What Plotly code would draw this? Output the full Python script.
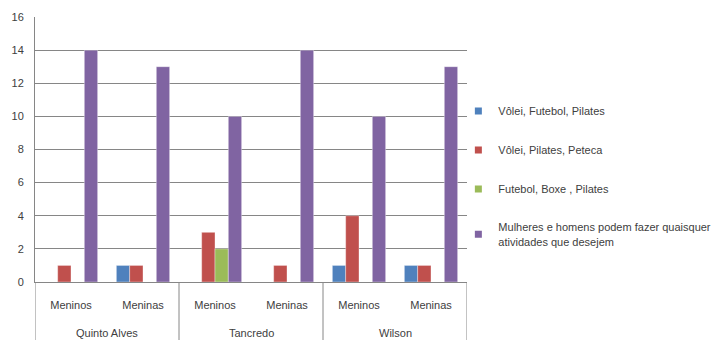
import plotly.graph_objects as go

# Schools and groups on the x axis
schools = ["Quinto Alves", "Tancredo", "Wilson"]
groups = ["Meninos", "Meninas", "Meninos", "Meninas", "Meninos", "Meninas"]
category_keys = ["Quinto Alves|Meninos", "Quinto Alves|Meninas",
                 "Tancredo|Meninos", "Tancredo|Meninas",
                 "Wilson|Meninos", "Wilson|Meninas"]

# Answers per option
series_names = [
    "Vôlei, Futebol, Pilates",
    "Vôlei, Pilates, Peteca",
    "Futebol, Boxe , Pilates",
    "Mulheres e homens podem fazer quaisquer<br>atividades que desejem",
]
volei_futebol_pilates = [0, 1, 0, 0, 1, 1]
volei_pilates_peteca = [1, 1, 3, 1, 4, 1]
futebol_boxe_pilates = [0, 0, 2, 0, 0, 0]
quaisquer_atividades = [14, 13, 10, 14, 10, 13]

series_values = [volei_futebol_pilates, volei_pilates_peteca,
                 futebol_boxe_pilates, quaisquer_atividades]
colors = ["#4F81BD", "#C0504D", "#9BBB59", "#8064A2"]

text_color = "#404040"
line_color = "#868686"
font_family = "Liberation Sans, Arial, sans-serif"

fig = go.Figure()
for i, (name, vals, col) in enumerate(zip(series_names, series_values, colors)):
    fig.add_trace(go.Bar(
        x=category_keys,
        y=vals,
        name=name,
        showlegend=False,
        marker=dict(color=col, line=dict(color="rgba(255,255,255,0.6)", width=0.6)),
    ))
    # small square legend key for the series
    fig.add_trace(go.Scatter(
        x=[None], y=[None],
        mode="markers",
        name=name,
        legendgroup=str(i),
        marker=dict(symbol="square", size=7, color=col),
        hoverinfo="skip",
    ))

# school names under each pair of groups
n_per_school = 2
for k, school in enumerate(schools):
    fig.add_annotation(
        x=k * n_per_school + (n_per_school - 1) / 2, y=-0.192,
        xref="x", yref="paper",
        text=school, showarrow=False,
        font=dict(size=11, color=text_color),
        xanchor="center", yanchor="middle",
    )

# dividers between the schools in the label area
for k in range(len(schools) + 1):
    fig.add_shape(
        type="line",
        x0=k * n_per_school - 0.5, x1=k * n_per_school - 0.5,
        y0=0, y1=-0.22,
        xref="x", yref="paper",
        line=dict(color=line_color, width=1),
    )

fig.update_layout(
    width=725,
    height=340,
    margin=dict(l=35, r=258, t=17, b=58, autoexpand=False),
    paper_bgcolor="white",
    plot_bgcolor="white",
    barmode="group",
    bargap=0.26,
    bargroupgap=0,
    font=dict(family=font_family, size=11, color=text_color),
    showlegend=True,
    legend=dict(
        x=0.98, y=0.70, xanchor="left", yanchor="top",
        font=dict(size=11, color=text_color),
        tracegroupgap=20,
        itemwidth=30,
        bgcolor="rgba(0,0,0,0)",
    ),
    xaxis=dict(
        type="category",
        range=[-0.5, 5.5],
        tickvals=category_keys,
        ticktext=groups,
        showline=True,
        linecolor=line_color,
        linewidth=1,
        showgrid=False,
        ticks="",
        ticklabelstandoff=13,
        tickfont=dict(size=11, color=text_color),
    ),
    yaxis=dict(
        range=[0, 16],
        dtick=2,
        showgrid=True,
        gridcolor=line_color,
        gridwidth=1,
        showline=True,
        linecolor=line_color,
        linewidth=1,
        zeroline=False,
        ticks="",
        ticklabelstandoff=8,
        tickfont=dict(size=11, color=text_color),
    ),
)

fig.write_html("out.html")
